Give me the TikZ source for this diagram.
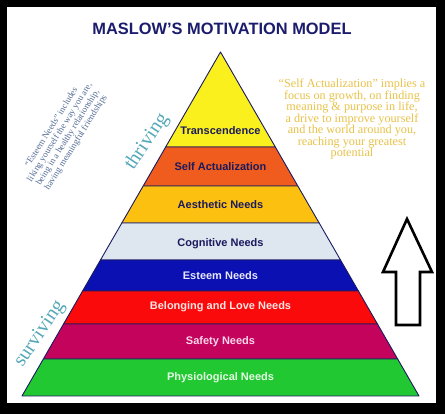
\documentclass[tikz,border=0pt]{standalone}
\usepackage{fontspec}
\setmainfont{Liberation Serif}
\setsansfont{Liberation Sans}
\definecolor{titleblue}{RGB}{28,28,110}
\definecolor{transc}{RGB}{250,240,30}
\definecolor{selfact}{RGB}{240,92,30}
\definecolor{aesth}{RGB}{252,192,16}
\definecolor{cogn}{RGB}{222,230,240}
\definecolor{esteem}{RGB}{10,16,178}
\definecolor{belong}{RGB}{250,10,10}
\definecolor{safety}{RGB}{196,4,92}
\definecolor{physio}{RGB}{34,200,50}
\definecolor{darklbl}{RGB}{26,26,94}
\definecolor{esteemtxt}{RGB}{232,232,250}
\definecolor{belongtxt}{RGB}{255,228,228}
\definecolor{safetytxt}{RGB}{250,214,236}
\definecolor{physiotxt}{RGB}{228,250,228}
\definecolor{quotegold}{RGB}{232,194,72}
\definecolor{noteblue}{RGB}{84,108,150}
\definecolor{tealword}{RGB}{84,168,184}
\begin{document}
\begin{tikzpicture}[
	x=1pt, y=-1pt,
	band/.style={draw=darklbl, line width=0.9pt, line join=round},
	level/.style={
		font=\sffamily\bfseries\fontsize{11}{13}\selectfont,
		inner sep=0pt
	},
	quote/.style={
		text=quotegold, align=center,
		font=\fontsize{12.2}{11.5}\selectfont
	},
	stage/.style={
		text=tealword, inner sep=0pt,
		font=\fontsize{20}{22}\selectfont
	},
	]
	\fill[black] (0,0) rectangle (445,414);
	\fill[white] (7,7) rectangle (436,403);

	\node [font=\sffamily\bfseries\fontsize{16.4}{18}\selectfont, text=titleblue] (title) at (222,29) {MASLOW{\char"27}S MOTIVATION MODEL};

	\foreach \ytop/\ybot/\ylbl/\fillc/\txtc/\lbl/\nm in {
		52/147/131/transc/darklbl/Transcendence/tr,
		147/186/167/selfact/darklbl/Self Actualization/sa,
		186/223/205/aesth/darklbl/Aesthetic Needs/ae,
		223/260/244/cogn/darklbl/Cognitive Needs/co,
		260/291/276/esteem/esteemtxt/Esteem Needs/es,
		291/324/307/belong/belongtxt/Belonging and Love Needs/bl,
		324/359/342/safety/safetytxt/Safety Needs/sf,
		359/396/378/physio/physiotxt/Physiological Needs/ph} {
		\pgfmathsetmacro{\wt}{0.577035*(\ytop-52)}
		\pgfmathsetmacro{\wb}{0.577035*(\ybot-52)}
		\filldraw [band, fill=\fillc] (220.5-\wt,\ytop) -- (220.5+\wt,\ytop) -- (220.5+\wb,\ybot) -- (220.5-\wb,\ybot) -- cycle;
		\node [level, text=\txtc] (\nm) at (220.5,\ylbl) {\lbl};
	}

	\node [quote] (selfnote) at (352,119.5) {``Self Actualization'' implies a\\focus on growth, on finding\\meaning \& purpose in life,\\a drive to improve yourself\\and the world around you,\\reaching your greatest\\potential};

	\node [text=noteblue, align=center, rotate=58, font=\fontsize{9}{9.6}\selectfont] (esteemnote) at (64,135) {``Esteem Needs'' includes\\liking yourself the way you are,\\being in a healthy relationship,\\having meaningful friendships};

	\node [stage, rotate=56] (thriving) at (147,142) {thriving};
	\node [stage, rotate=56] (surviving) at (40,334) {surviving};

	\draw [line width=2.6pt, fill=white, line join=miter] (407,219) -- (432,272) -- (420,272) -- (420,325) -- (396,325) -- (396,272) -- (383,272) -- cycle;
\end{tikzpicture}
\end{document}
